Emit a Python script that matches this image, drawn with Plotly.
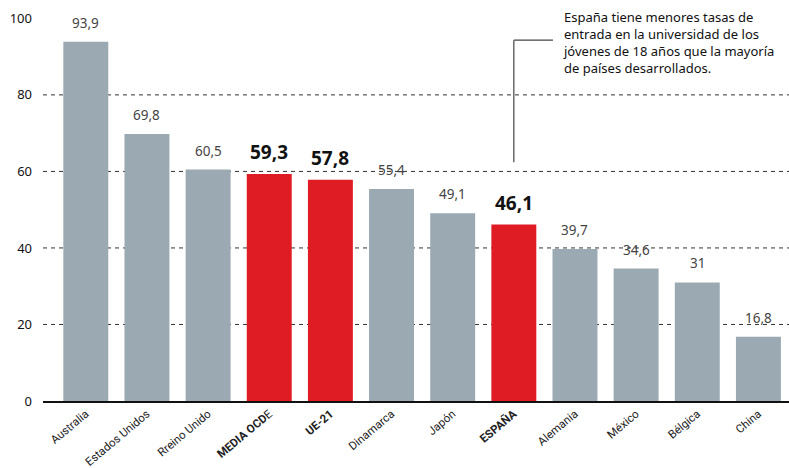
import plotly.graph_objects as go

categories = ["Australia", "Estados Unidos", "Rreino Unido", "MEDIA OCDE", "UE-21",
              "Dinamarca", "Japón", "ESPAÑA", "Alemania", "México", "Bélgica", "China"]
tick_labels = ["Australia", "Estados Unidos", "Rreino Unido", "<b>MEDIA OCD</b>E", "<b>UE-21</b>",
               "Dinamarca", "Japón", "<b>ESPAÑA</b>", "Alemania", "México", "Bélgica", "China"]
values = [93.9, 69.8, 60.5, 59.3, 57.8, 55.4, 49.1, 46.1, 39.7, 34.6, 31, 16.8]
value_labels = ["93,9", "69,8", "60,5", "59,3", "57,8", "55,4", "49,1", "46,1", "39,7", "34,6", "31", "16,8"]
highlight = [False, False, False, True, True, False, False, True, False, False, False, False]
y_ticks = [0, 20, 40, 60, 80, 100]
grid_values = [20, 40, 60, 80]

GRAY = "#9aa9b2"
RED = "#df1c24"
FONT = "Noto Sans"
TICK_FONT = "Roboto"

colors = [RED if h else GRAY for h in highlight]

fig = go.Figure()
fig.add_trace(go.Bar(
    x=list(range(len(categories))), y=values, marker_color=colors,
    marker_line_width=0, width=0.735, hoverinfo="skip",
))

annotations = []
for i, (v, lab, h) in enumerate(zip(values, value_labels, highlight)):
    annotations.append(dict(
        x=i, y=v, text=f"<b>{lab}</b>" if h else lab, showarrow=False,
        yanchor="bottom", yshift=7 if h else 8,
        font=dict(family=FONT, size=19 if h else 13.5, color="#111" if h else "#444"),
    ))

annotations.append(dict(
    xref="paper", yref="paper", x=(561 - 43) / 746, y=1 - 6 / 401,
    xanchor="left", yanchor="top", align="left", showarrow=False,
    text="España tiene menores tasas de<br>entrada en la universidad de los<br>jóvenes de 18 años que la mayoría<br>de países desarrollados.",
    font=dict(family=FONT, size=13, color="#111"),
))

shapes = []
for g in grid_values:
    shapes.append(dict(type="line", xref="paper", yref="y", x0=0, x1=1, y0=g, y1=g,
                       layer="below", line=dict(color="#333", width=1, dash="4px,4px")))

idx_es = categories.index("ESPAÑA")
shapes += [
    dict(type="line", xref="x", yref="y", x0=idx_es, x1=idx_es, y0=62.4, y1=94.3,
         line=dict(color="#444", width=1.2)),
    dict(type="line", xref="x", yref="y", x0=idx_es, x1=idx_es + 0.64, y0=94.3, y1=94.3,
         line=dict(color="#444", width=1.2)),
]

fig.update_layout(
    width=789, height=468,
    margin=dict(l=43, r=0, t=0, b=67),
    plot_bgcolor="white", paper_bgcolor="white",
    showlegend=False,
    annotations=annotations, shapes=shapes,
    font=dict(family=FONT, color="#111"),
    xaxis=dict(
        range=[-0.7, 11.5], tickmode="array", tickvals=list(range(len(categories))),
        ticktext=tick_labels, tickangle=-40, showgrid=False, zeroline=False,
        showline=True, linecolor="#111", linewidth=1.5, ticks="", automargin=False,
        tickfont=dict(family=TICK_FONT, size=11.5, color="#222"),
    ),
    yaxis=dict(
        range=[0, 104.8], tickvals=y_ticks,
        showgrid=False, zeroline=False, showline=False, ticks="",
        ticklabelstandoff=10, automargin=False,
        tickfont=dict(family=FONT, size=13, color="#111"),
    ),
)

fig.write_html("out.html", config={"displayModeBar": False},
               post_script="document.body.style.margin='0';document.body.style.overflow='hidden';")
